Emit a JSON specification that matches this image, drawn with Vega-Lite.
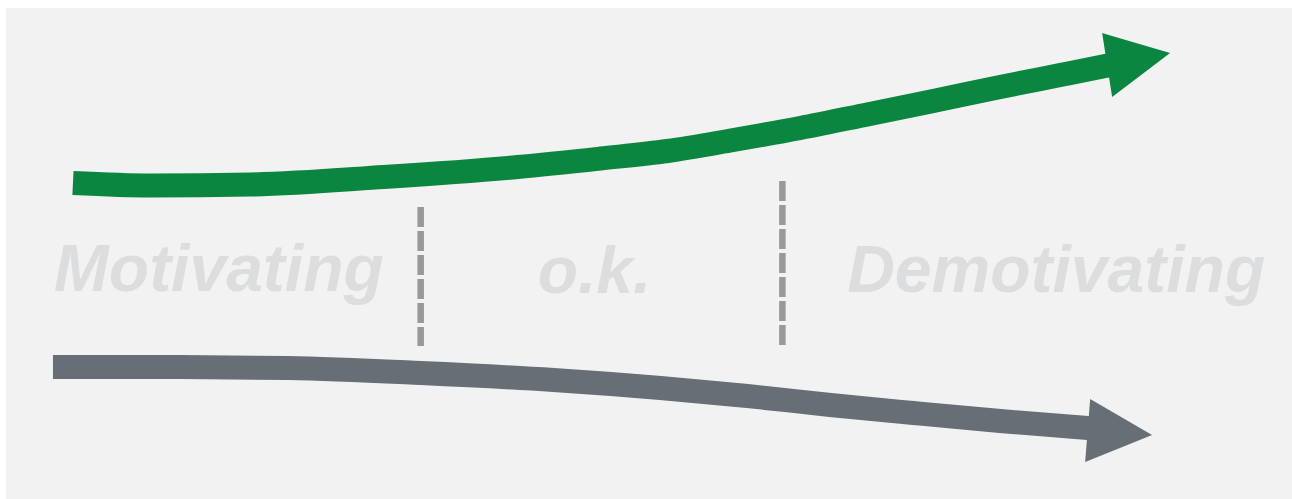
{
  "$schema": "https://vega.github.io/schema/vega-lite/v6.json",
  "autosize": {"type": "fit", "contains": "padding"},
  "width": 1292,
  "height": 499,
  "background": "#ffffff",
  "padding": {"left": 5, "top": 8, "right": 0, "bottom": 0},
  "config": {"view": {"fill": "#f2f2f2", "stroke": null}},
  "datasets": {
    "shafts": [
      {"s": "up", "x": 72, "y": 183},
      {"s": "up", "x": 150, "y": 185.5},
      {"s": "up", "x": 250, "y": 184.5},
      {"s": "up", "x": 383, "y": 177},
      {"s": "up", "x": 517, "y": 167},
      {"s": "up", "x": 600, "y": 158.5},
      {"s": "up", "x": 667, "y": 151},
      {"s": "up", "x": 733, "y": 140},
      {"s": "up", "x": 800, "y": 128},
      {"s": "up", "x": 867, "y": 114.5},
      {"s": "up", "x": 933, "y": 101},
      {"s": "up", "x": 1000, "y": 87},
      {"s": "up", "x": 1060, "y": 75},
      {"s": "up", "x": 1115, "y": 64},
      {"s": "down", "x": 52, "y": 367},
      {"s": "down", "x": 180, "y": 367},
      {"s": "down", "x": 287, "y": 368},
      {"s": "down", "x": 420, "y": 373},
      {"s": "down", "x": 553, "y": 380},
      {"s": "down", "x": 660, "y": 388},
      {"s": "down", "x": 747, "y": 396},
      {"s": "down", "x": 830, "y": 405},
      {"s": "down", "x": 913, "y": 413},
      {"s": "down", "x": 1000, "y": 421},
      {"s": "down", "x": 1100, "y": 429}
    ],
    "heads": [
      {"s": "up", "x": 1102, "top": 33, "bottom": 33},
      {"s": "up", "x": 1112, "top": 36, "bottom": 97},
      {"s": "up", "x": 1170, "top": 53, "bottom": 53},
      {"s": "down", "x": 1085, "top": 462, "bottom": 462},
      {"s": "down", "x": 1090, "top": 399, "bottom": 460},
      {"s": "down", "x": 1152, "top": 435, "bottom": 435}
    ],
    "dividers": [
      {"x": 420, "y": 207, "y2": 346},
      {"x": 782, "y": 181, "y2": 346}
    ],
    "labels": [
      {"label": "Motivating", "x": 218, "y": 291},
      {"label": "o.k.", "x": 594, "y": 293},
      {"label": "Demotivating", "x": 1056, "y": 292}
    ]
  },
  "layer": [
    {
      "data": {"name": "labels"},
      "mark": {"type": "text", "font": "Liberation Sans", "fontSize": 66, "fontWeight": "bold", "fontStyle": "italic", "color": "#dcdddf", "align": "center", "baseline": "alphabetic"},
      "encoding": {
        "x": {"field": "x", "type": "quantitative", "scale": {"domain": [5, 1292], "nice": false, "zero": false}, "axis": null},
        "y": {"field": "y", "type": "quantitative", "scale": {"domain": [8, 499], "reverse": true, "nice": false, "zero": false}, "axis": null},
        "text": {"field": "label"}
      }
    },
    {
      "data": {"name": "dividers"},
      "mark": {"type": "rule", "color": "#98999b", "strokeWidth": 6.5, "strokeDash": [20, 4]},
      "encoding": {
        "x": {"field": "x", "type": "quantitative", "scale": {"domain": [5, 1292], "nice": false, "zero": false}, "axis": null},
        "y": {"field": "y", "type": "quantitative", "scale": {"domain": [8, 499], "reverse": true, "nice": false, "zero": false}, "axis": null},
        "y2": {"field": "y2"}
      }
    },
    {
      "data": {"name": "shafts"},
      "mark": {"type": "line", "strokeWidth": 24, "strokeCap": "butt", "interpolate": "monotone"},
      "encoding": {
        "x": {"field": "x", "type": "quantitative", "scale": {"domain": [5, 1292], "nice": false, "zero": false}, "axis": null},
        "y": {"field": "y", "type": "quantitative", "scale": {"domain": [8, 499], "reverse": true, "nice": false, "zero": false}, "axis": null},
        "color": {"field": "s", "type": "nominal", "scale": {"domain": ["up", "down"], "range": ["#0b8641", "#686e76"]}, "legend": null},
        "detail": {"field": "s"}
      }
    },
    {
      "data": {"name": "heads"},
      "mark": {"type": "area", "opacity": 1},
      "encoding": {
        "x": {"field": "x", "type": "quantitative", "scale": {"domain": [5, 1292], "nice": false, "zero": false}, "axis": null},
        "y": {"field": "top", "type": "quantitative", "scale": {"domain": [8, 499], "reverse": true, "nice": false, "zero": false}, "axis": null},
        "y2": {"field": "bottom"},
        "color": {"field": "s", "type": "nominal", "scale": {"domain": ["up", "down"], "range": ["#0b8641", "#686e76"]}, "legend": null},
        "detail": {"field": "s"}
      }
    }
  ]
}
